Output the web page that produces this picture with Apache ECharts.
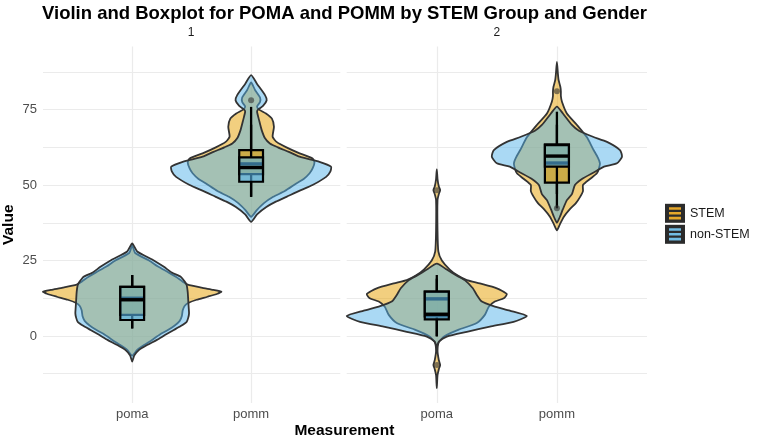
<!DOCTYPE html>
<html>
<head>
<meta charset="utf-8">
<script src="https://cdn.jsdelivr.net/npm/echarts@6/dist/echarts.min.js"></script>
<style>
html, body { margin: 0; padding: 0; background: #fff; }
#chart { width: 762px; height: 443px; }
</style>
</head>
<body>
<div id="chart"></div>
<script>
// facets, x categories and fill groups
var panels = ['1', '2'];
var measures = ['poma', 'pomm'];
var groups = ['STEM', 'non-STEM'];
var yTicks = [0, 25, 50, 75];
var yGrid = [-12.5, 0, 12.5, 25, 37.5, 50, 62.5, 75, 87.5];

// violin outlines: [value, half width in category units]
var p1PomaStem = [[30,0],[27.5,0.025],[25,0.142],[23,0.217],[21,0.308],[19.6,0.367],[18,0.425],[17,0.467],[16,0.583],[15.3,0.683],[14.7,0.75],[14,0.717],[13,0.633],[12,0.542],[11,0.475],[10,0.442],[8.5,0.425],[6.5,0.417],[5,0.4],[3.5,0.358],[2,0.3],[0.5,0.233],[-1.3,0.167],[-3,0.1],[-4.6,0.042],[-6.5,0]];
var p1PomaNon = [[30.7,0],[28,0.042],[25.2,0.175],[22.9,0.267],[21,0.333],[19.6,0.408],[18,0.442],[16.9,0.458],[14.5,0.467],[12,0.471],[9.5,0.475],[7.5,0.478],[6,0.471],[4.7,0.458],[3.3,0.408],[2,0.35],[0.3,0.275],[-1.3,0.208],[-3,0.125],[-4.6,0.058],[-6.5,0.017],[-8.5,0]];
var p1PommStem = [[84,0],[81.5,0.033],[79,0.075],[77.5,0.075],[76,0.05],[75,0.067],[73.7,0.125],[72,0.175],[69.3,0.192],[66,0.181],[64.3,0.214],[62.5,0.297],[60.5,0.408],[58.8,0.517],[57.5,0.533],[55.5,0.517],[53.9,0.492],[52,0.442],[50.6,0.383],[48,0.283],[46.1,0.186],[44,0.108],[41.7,0.048],[39.5,0]];
var p1PommNon = [[86.4,0],[83.5,0.05],[79.8,0.117],[78.1,0.131],[76.2,0.1],[75,0.058],[74.3,0.05],[71.5,0.067],[68.2,0.089],[65.5,0.117],[63.8,0.158],[62.5,0.225],[61,0.317],[59.4,0.408],[57.7,0.575],[56.1,0.672],[54.5,0.667],[52.7,0.631],[50,0.517],[48,0.4],[46.1,0.297],[44.5,0.208],[42.8,0.131],[40.3,0.05],[37.8,0]];
var p2PomaStem = [[55.2,0],[52,0.006],[49.5,0.017],[48.3,0.028],[47,0.017],[45,0.006],[35,0.006],[28,0.013],[25,0.042],[22,0.108],[20,0.175],[18.5,0.25],[17.4,0.358],[15.8,0.5],[13.9,0.583],[12.5,0.558],[11.4,0.483],[9.7,0.433],[7,0.4],[4.3,0.333],[2.1,0.183],[0,0.067],[-2,0.017],[-5,0.006],[-8,0.017],[-9.6,0.028],[-11,0.017],[-13,0.006],[-17.3,0]];
var p2PomaNon = [[24,0],[22,0.083],[20,0.167],[18.5,0.233],[15.8,0.3],[13.6,0.333],[11.4,0.375],[9.9,0.472],[8.4,0.608],[6.6,0.75],[4.7,0.639],[3.1,0.442],[1.4,0.25],[-0.2,0.083],[-1.9,0.017],[-3.5,0]];
var p2PommStem = [[90.8,0],[87,0.008],[84.8,0.014],[82.5,0.029],[81,0.033],[79.5,0.033],[77.6,0.042],[73.7,0.083],[69.9,0.167],[65.8,0.25],[62,0.3],[59,0.342],[57.2,0.358],[55.5,0.35],[53.9,0.333],[52,0.275],[50,0.217],[48,0.217],[46,0.192],[44,0.158],[42,0.108],[39.5,0.058],[37,0.025],[35,0]];
var p2PommNon = [[76,0],[73.7,0.05],[69.9,0.125],[68,0.183],[66,0.3],[64.3,0.417],[61.6,0.525],[59.4,0.542],[57.2,0.5],[56.1,0.392],[54.4,0.317],[52,0.208],[50,0.15],[47,0.125],[45,0.083],[42,0.05],[39.5,0.025],[37.5,0]];

// boxplot stats: [lower whisker, q1, median, q3, upper whisker], poma then pomm
var p1BoxStem = [[2.5, 7.0, 12.5, 16.3, 20.2], [46.1, 53.6, 57.0, 61.6, 75.9]];
var p1BoxNon  = [[2.5, 5.3, 12.0, 16.3, 20.2], [46.1, 51.1, 55.8, 59.2, 70.0]];
var p2BoxStem = [[0.0, 6.5, 12.3, 14.7, 20.2], [42.3, 50.8, 57.3, 63.5, 74.3]];
var p2BoxNon  = [[-0.2, 5.5, 7.2, 14.7, 19.0], [47.0, 56.1, 59.6, 63.2, 70.0]];

// outliers: [measure, value]
var p1OutStem = [];
var p1OutNon  = [['pomm', 78.1]];
var p2OutStem = [['poma', 48.3], ['poma', -9.6], ['pomm', 81.1]];
var p2OutNon  = [['pomm', 42.3]];

var FONT = '"Liberation Sans", Arial, sans-serif';
var violinFill = {'STEM': 'rgba(230,159,0,0.5)', 'non-STEM': 'rgba(86,180,233,0.5)'};
var boxFill = {'STEM': 'rgba(230,159,0,0.6)', 'non-STEM': 'rgba(86,180,233,0.6)'};
var keyColor = {'STEM': '#E5A72A', 'non-STEM': '#72BCE3'};
var BOX_HW = 0.1;

var violins = [
    {'STEM': [p1PomaStem, p1PommStem], 'non-STEM': [p1PomaNon, p1PommNon]},
    {'STEM': [p2PomaStem, p2PommStem], 'non-STEM': [p2PomaNon, p2PommNon]}
];
var boxes = [
    {'STEM': p1BoxStem, 'non-STEM': p1BoxNon},
    {'STEM': p2BoxStem, 'non-STEM': p2BoxNon}
];
var outliers = [
    {'STEM': p1OutStem, 'non-STEM': p1OutNon},
    {'STEM': p2OutStem, 'non-STEM': p2OutNon}
];

function violinItem(profiles, fill) {
    return function (params, api) {
        var prof = profiles[params.dataIndex];
        var x = api.value(0);
        var pts = [];
        for (var i = 0; i < prof.length; i++) pts.push(api.coord([x + prof[i][1], prof[i][0]]));
        for (var j = prof.length - 2; j > 0; j--) pts.push(api.coord([x - prof[j][1], prof[j][0]]));
        return {
            type: 'polygon',
            shape: {points: pts, smooth: 0.2},
            style: {fill: fill, stroke: '#333333', lineWidth: 1.8, lineJoin: 'round'}
        };
    };
}

function boxItem(stats, fill) {
    return function (params, api) {
        var s = stats[params.dataIndex];
        var x = api.value(0);
        var lo = api.coord([x, s[0]]), q1 = api.coord([x, s[1]]);
        var q3 = api.coord([x, s[3]]), hi = api.coord([x, s[4]]);
        var tl = api.coord([x - BOX_HW, s[3]]), br = api.coord([x + BOX_HW, s[1]]);
        var ml = api.coord([x - BOX_HW, s[2]]), mr = api.coord([x + BOX_HW, s[2]]);
        var ln = {stroke: '#000', lineWidth: 2.3};
        return {type: 'group', children: [
            {type: 'line', shape: {x1: hi[0], y1: hi[1], x2: q3[0], y2: q3[1]}, style: ln},
            {type: 'line', shape: {x1: q1[0], y1: q1[1], x2: lo[0], y2: lo[1]}, style: ln},
            {type: 'rect', shape: {x: tl[0], y: tl[1], width: br[0] - tl[0], height: br[1] - tl[1]},
                style: {fill: fill, stroke: '#000', lineWidth: 2.2}},
            {type: 'line', shape: {x1: ml[0], y1: ml[1], x2: mr[0], y2: mr[1]}, style: {stroke: '#000', lineWidth: 3.4}}
        ]};
    };
}

var catData = measures.map(function (m, i) { return [i + 1, 0]; });
var series = [];
panels.forEach(function (p, pi) {
    groups.forEach(function (g) {
        series.push({
            type: 'custom', name: g, xAxisIndex: pi, yAxisIndex: pi, silent: true,
            renderItem: violinItem(violins[pi][g], violinFill[g]), data: catData
        });
    });
    groups.forEach(function (g) {
        series.push({
            type: 'custom', name: g, xAxisIndex: pi, yAxisIndex: pi, silent: true,
            renderItem: boxItem(boxes[pi][g], boxFill[g]), data: catData
        });
    });
    groups.forEach(function (g) {
        series.push({
            type: 'scatter', name: g, xAxisIndex: pi, yAxisIndex: pi, silent: true,
            symbolSize: 6,
            itemStyle: {color: '#333333', opacity: 0.6},
            data: outliers[pi][g].map(function (o) { return [measures.indexOf(o[0]) + 1, o[1]]; })
        });
    });
});

var grids = [
    {left: 41.7, top: 46.5, width: 298.6, height: 356.5},
    {left: 346.7, top: 46.5, width: 300.3, height: 356.5}
];

var xAxes = grids.map(function (g, i) {
    return {
        type: 'value', gridIndex: i, min: 0.25, max: 2.75,
        axisLine: {show: false},
        axisTick: {show: false, customValues: [1, 2]},
        axisLabel: {customValues: [1, 2], margin: 5, color: '#4d4d4d', fontSize: 13, fontFamily: FONT,
            formatter: function (v) { return measures[Math.round(v) - 1]; }},
        splitLine: {show: true, lineStyle: {color: '#ebebeb', width: 1.2}}
    };
});
var yAxes = grids.map(function (g, i) {
    return {
        type: 'value', gridIndex: i, min: -22.2, max: 95.9,
        name: i === 0 ? 'Value' : '', nameLocation: 'middle', nameGap: 26,
        nameTextStyle: {fontFamily: FONT, fontSize: 15.5, fontWeight: 'bold', color: '#000'},
        axisLine: {show: false},
        axisTick: {show: false, customValues: yGrid},
        axisLabel: {show: i === 0, customValues: yTicks, margin: 6, color: '#4d4d4d', fontSize: 13, fontFamily: FONT},
        splitLine: {show: true, lineStyle: {color: '#ebebeb', width: 1.2}}
    };
});

var stripePath = 'path://M0,0h0.01v0.01h-0.01z M19.99,18.99h0.01v0.01h-0.01z M4,3.4h12v2.6h-12z M4,8.2h12v2.6h-12z M4,13h12v2.6h-12z';
var legendBase = {
    left: 665, top: 203.8, orient: 'vertical', padding: 0,
    itemWidth: 20, itemHeight: 19, itemGap: 2, selectedMode: false
};

var myChart = echarts.init(document.getElementById('chart'), null, {renderer: 'canvas'});
myChart.setOption({
    animation: false,
    backgroundColor: '#fff',
    title: {
        text: 'Violin and Boxplot for POMA and POMM by STEM Group and Gender',
        left: 42, top: 4, padding: 0,
        textStyle: {fontFamily: FONT, fontSize: 18.5, fontWeight: 'bold', color: '#000'}
    },
    graphic: [
        {type: 'text', x: (grids[0].left + grids[0].left + grids[0].width) / 2, y: 33,
            style: {text: panels[0], align: 'center', verticalAlign: 'middle', fontFamily: FONT, fontSize: 12, fill: '#1a1a1a'}},
        {type: 'text', x: (grids[1].left + grids[1].left + grids[1].width) / 2, y: 33,
            style: {text: panels[1], align: 'center', verticalAlign: 'middle', fontFamily: FONT, fontSize: 12, fill: '#1a1a1a'}},
        {type: 'text', x: (grids[0].left + grids[1].left + grids[1].width) / 2, y: 431,
            style: {text: 'Measurement', align: 'center', verticalAlign: 'middle', fontFamily: FONT, fontSize: 15.5, fontWeight: 'bold', fill: '#000'}}
    ],
    legend: [
        Object.assign({}, legendBase, {
            icon: 'rect', data: groups,
            itemStyle: {color: '#2b2b2b', borderWidth: 0},
            textStyle: {fontFamily: FONT, fontSize: 12.5, color: '#1a1a1a'}
        }),
        Object.assign({}, legendBase, {
            icon: stripePath,
            data: groups.map(function (g) { return {name: g, itemStyle: {color: keyColor[g], borderWidth: 0}}; }),
            itemStyle: {borderWidth: 0},
            textStyle: {fontFamily: FONT, fontSize: 12.5, color: 'rgba(0,0,0,0)'}
        })
    ],
    grid: grids,
    xAxis: xAxes,
    yAxis: yAxes,
    series: series
});
</script>
</body>
</html>
